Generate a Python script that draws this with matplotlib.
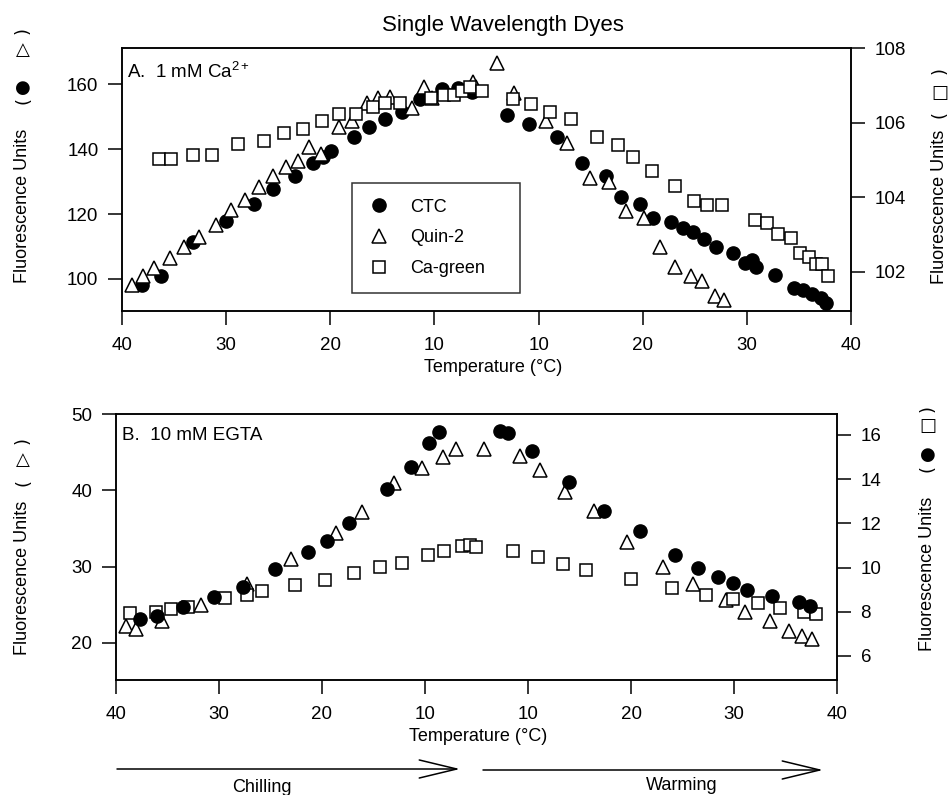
import numpy as np
import matplotlib
matplotlib.use('Agg')
import matplotlib.pyplot as plt

plt.rcParams['font.family'] = ['Liberation Sans', 'DejaVu Sans']
plt.rcParams['mathtext.fontset'] = 'custom'
plt.rcParams['mathtext.rm'] = 'Liberation Sans'
plt.rcParams['mathtext.it'] = 'Liberation Sans:italic'

# x axis: chilling from 40 C down to ~5 C, then warming back up to 40 C
tick_labels = ['40', '30', '20', '10', '10', '20', '30', '40']

# Panel A: 1 mM Ca2+
a_ctc_chill_t = [38.1, 36.3, 33.2, 30.0, 27.3, 25.5, 23.4, 21.7, 20.7, 19.9, 17.7, 16.3,
                 14.7, 13.1, 11.4, 9.3, 7.7, 6.4]
a_ctc_chill_v = [98.2, 100.9, 111.3, 117.8, 123.1, 127.6, 131.8, 135.6, 137.4, 139.4, 143.8,
                 146.7, 149.2, 151.3, 155.3, 158.4, 158.7, 157.6]
a_ctc_warm_t = [6.95, 9.1, 11.8, 14.2, 16.5, 17.9, 19.7, 21.0, 22.7, 23.9, 24.8, 25.9, 27.0,
                28.7, 29.8, 30.5, 30.9, 32.7, 34.5, 35.4, 36.3, 37.1, 37.6]
a_ctc_warm_v = [150.5, 147.6, 143.8, 135.8, 131.8, 125.3, 123.1, 118.7, 117.6, 115.8, 114.4,
                112.3, 109.9, 107.9, 104.8, 105.8, 103.8, 101.2, 97.3, 96.6, 95.3, 94.1, 92.6]

a_quin_chill_t = [39.0, 38.0, 36.9, 35.4, 34.0, 32.6, 31.0, 29.5, 28.2, 26.8, 25.5, 24.3, 23.1,
                  22.0, 20.9, 19.2, 17.9, 16.5, 15.4, 14.3, 12.2, 11.0, 10.2, 6.3, 6.0]
a_quin_chill_v = [98.2, 100.9, 103.5, 106.4, 110.0, 113.0, 116.6, 121.2, 124.3, 128.2, 131.7,
                  134.6, 136.4, 140.7, 138.5, 146.9, 148.7, 154.1, 155.8, 156.1, 152.5, 159.1,
                  155.6, 160.6, 159.1]
a_quin_warm_t = [6.0, 7.6, 10.7, 12.7, 14.9, 16.8, 18.4, 20.1, 21.7, 23.1, 24.6, 25.7, 26.9, 27.8]
a_quin_warm_v = [166.6, 157.2, 148.7, 141.8, 131.0, 129.9, 121.0, 118.7, 109.8, 103.8, 100.9,
                 99.5, 94.8, 93.5]

a_green_chill_t = [36.4, 35.3, 33.2, 31.4, 28.9, 26.4, 24.4, 22.6, 20.8, 19.2, 17.5, 15.9,
                   14.7, 13.3, 10.3, 9.1, 8.1, 7.4, 6.6, 5.4]
a_green_chill_v = [105.02, 105.02, 105.13, 105.13, 105.43, 105.52, 105.73, 105.82, 106.03,
                   106.22, 106.22, 106.43, 106.52, 106.53, 106.65, 106.74, 106.74, 106.85,
                   106.96, 106.85]
a_green_warm_t = [7.5, 9.3, 11.1, 13.1, 15.6, 17.6, 19.1, 20.9, 23.1, 24.9, 26.2, 27.6, 30.8,
                  31.9, 33.0, 34.2, 35.1, 36.0, 36.6, 37.2, 37.8]
a_green_warm_v = [106.62, 106.49, 106.29, 106.10, 105.61, 105.40, 105.09, 104.69, 104.30,
                  103.90, 103.79, 103.79, 103.39, 103.32, 103.01, 102.90, 102.50, 102.41,
                  102.21, 102.21, 101.89]

# Panel B: 10 mM EGTA
b_ctc_chill_t = [37.7, 36.0, 33.5, 30.5, 27.7, 24.6, 21.4, 19.5, 17.4, 13.7, 11.4, 9.6, 8.6]
b_ctc_chill_v = [7.66, 7.81, 8.23, 8.65, 9.12, 9.92, 10.72, 11.22, 12.03, 13.55, 14.54, 15.66, 16.15]
b_ctc_warm_t = [7.3, 8.1, 10.4, 14.0, 17.4, 20.9, 24.3, 26.5, 28.4, 29.9, 31.3, 33.7, 36.3, 37.4]
b_ctc_warm_v = [16.17, 16.08, 15.26, 13.87, 12.56, 11.67, 10.57, 9.98, 9.59, 9.30, 8.99, 8.71,
                8.44, 8.26]

b_quin_chill_t = [39.0, 38.1, 35.5, 31.7, 27.3, 23.0, 18.6, 16.1, 13.0, 10.3, 8.3, 7.0]
b_quin_chill_v = [22.21, 21.78, 22.87, 24.97, 27.76, 30.96, 34.36, 37.20, 41.00, 42.88, 44.40, 45.37]
b_quin_warm_t = [5.7, 9.2, 11.2, 13.6, 16.4, 19.6, 23.1, 26.0, 29.2, 31.1, 33.5, 35.3, 36.6, 37.6]
b_quin_warm_v = [45.37, 44.52, 42.60, 39.82, 37.33, 33.19, 30.01, 27.69, 25.62, 24.09, 22.87,
                 21.60, 20.90, 20.47]

b_green_chill_t = [38.6, 36.1, 34.7, 33.0, 29.4, 27.3, 25.8, 22.6, 19.7, 16.9, 14.4, 12.2, 9.7,
                   8.2, 6.4, 5.6, 5.0]
b_green_chill_v = [7.93, 8.00, 8.13, 8.20, 8.61, 8.78, 8.93, 9.21, 9.43, 9.74, 10.04, 10.22,
                   10.56, 10.76, 10.98, 11.02, 10.93]
b_green_warm_t = [8.5, 11.0, 13.4, 15.6, 20.0, 24.0, 27.3, 29.9, 32.3, 34.5, 36.8, 38.0]
b_green_warm_v = [10.76, 10.47, 10.16, 9.87, 9.48, 9.06, 8.77, 8.58, 8.38, 8.16, 7.98, 7.90]


def chill_pos(t):
    return 40 - np.asarray(t)


def warm_pos(t):
    return 30 + np.asarray(t)


ctc_style = dict(marker='o', ms=9.5, mfc='black', mec='black', mew=1.0)
quin_style = dict(marker='^', ms=9.5, mfc='white', mec='black', mew=1.1)
green_style = dict(marker='s', ms=8.8, mfc='white', mec='black', mew=1.1)


def plot_dye(ax, chill_t, chill_v, warm_t, warm_v, style, label):
    x = np.concatenate([chill_pos(chill_t), warm_pos(warm_t)])
    y = np.concatenate([chill_v, warm_v])
    return ax.plot(x, y, linestyle='none', label=label, **style)[0]


W, H = 950, 795
fig = plt.figure(figsize=(W / 100, H / 100), dpi=100)


def px_axes(left, top, right, bottom):
    return fig.add_axes([left / W, 1 - bottom / H, (right - left) / W, (bottom - top) / H])


def style_axes(ax, ax2):
    ax.set_xlim(0, 70)
    ax.set_xticks(np.concatenate([chill_pos([40, 30, 20, 10]), warm_pos([10, 20, 30, 40])]))
    ax.set_xticklabels(tick_labels)
    for a in (ax, ax2):
        for s in a.spines.values():
            s.set_linewidth(1.1)
        a.tick_params(direction='out', length=10, width=1.1, labelsize=13.5, pad=7)
    ax.tick_params(axis='x', pad=9)


def side_label(x, y_text, pieces):
    fig.text(x / W, 1 - y_text / H, 'Fluorescence Units', rotation=90,
             ha='center', va='center', fontsize=13)
    for s, y in pieces:
        rot = 90 if s in '()' else 0
        fig.text(x / W, 1 - y / H, s, rotation=rot, ha='center', va='center',
                 fontsize=13, family='DejaVu Sans')


# ---- Panel A ----
axA = px_axes(122, 48, 851, 311)
axA2 = axA.twinx()
h1 = plot_dye(axA, a_ctc_chill_t, a_ctc_chill_v, a_ctc_warm_t, a_ctc_warm_v, ctc_style, 'CTC')
h2 = plot_dye(axA, a_quin_chill_t, a_quin_chill_v, a_quin_warm_t, a_quin_warm_v, quin_style, 'Quin-2')
h3 = plot_dye(axA2, a_green_chill_t, a_green_chill_v, a_green_warm_t, a_green_warm_v, green_style, 'Ca-green')
axA.set_ylim(90.15, 171.1)
axA.set_yticks([100, 120, 140, 160])
axA2.set_ylim(100.95, 108)
axA2.set_yticks([102, 104, 106, 108])
style_axes(axA, axA2)
axA.text(0.007, 0.909, 'A.  1 mM Ca$^{2+}$', transform=axA.transAxes, fontsize=13.5,
         ha='left', va='center')
axA.set_xlabel('Temperature (°C)', fontsize=13)
axA.xaxis.set_label_coords(0.509, -0.213)
axA.xaxis.label.set_va('center')
leg = axA2.legend([h1, h2, h3], ['CTC', 'Quin-2', 'Ca-green'], loc='lower left',
                  bbox_to_anchor=(0.3155, 0.068, 0.2305, 0.42), mode='expand',
                  fontsize=13, frameon=True, fancybox=False, edgecolor='black',
                  borderpad=0.9, labelspacing=0.75, handlelength=1.2, handletextpad=1.1,
                  borderaxespad=0)
leg.get_frame().set_linewidth(1.1)

side_label(23, 206, [('(', 101), ('●', 88), ('△', 50), (')', 30)])
side_label(940, 207, [('(', 115), ('□', 93), (')', 71)])

# ---- Panel B ----
axB = px_axes(116, 414, 837, 680)
axB2 = axB.twinx()
plot_dye(axB, b_quin_chill_t, b_quin_chill_v, b_quin_warm_t, b_quin_warm_v, quin_style, 'Quin-2')
plot_dye(axB2, b_green_chill_t, b_green_chill_v, b_green_warm_t, b_green_warm_v, green_style, 'Ca-green')
plot_dye(axB2, b_ctc_chill_t, b_ctc_chill_v, b_ctc_warm_t, b_ctc_warm_v, ctc_style, 'CTC')
axB.set_ylim(15.15, 50)
axB.set_yticks([20, 30, 40, 50])
axB2.set_ylim(4.91, 16.95)
axB2.set_yticks([6, 8, 10, 12, 14, 16])
style_axes(axB, axB2)
axB.text(0.008, 0.921, 'B.  10 mM EGTA', transform=axB.transAxes, fontsize=13.5,
         ha='left', va='center')
axB.set_xlabel('Temperature (°C)', fontsize=13)
axB.xaxis.set_label_coords(0.502, -0.214)
axB.xaxis.label.set_va('center')

side_label(23, 578, [('(', 482), ('△', 460), (')', 441)])
side_label(928, 574, [('(', 468), ('●', 455), ('□', 426), (')', 408)])

# title
fig.text(503 / W, 1 - 25 / H, 'Single Wavelength Dyes', ha='center', va='center', fontsize=16)

# chilling / warming arrows
arrow = dict(arrowstyle='->,head_length=27,head_width=6.5', mutation_scale=1,
             lw=1.1, color='black', shrinkA=0, shrinkB=0)
axB.annotate('', xy=(460, H - 769), xytext=(117, H - 769), xycoords='figure pixels',
             textcoords='figure pixels', arrowprops=arrow)
axB.annotate('', xy=(823, H - 770), xytext=(483, H - 770), xycoords='figure pixels',
             textcoords='figure pixels', arrowprops=arrow)
fig.text(262 / W, 1 - 792 / H, 'Chilling', ha='center', va='baseline', fontsize=13)
fig.text(682 / W, 1 - 790 / H, 'Warming', ha='center', va='baseline', fontsize=13)

fig.savefig('out.png', dpi=100)
